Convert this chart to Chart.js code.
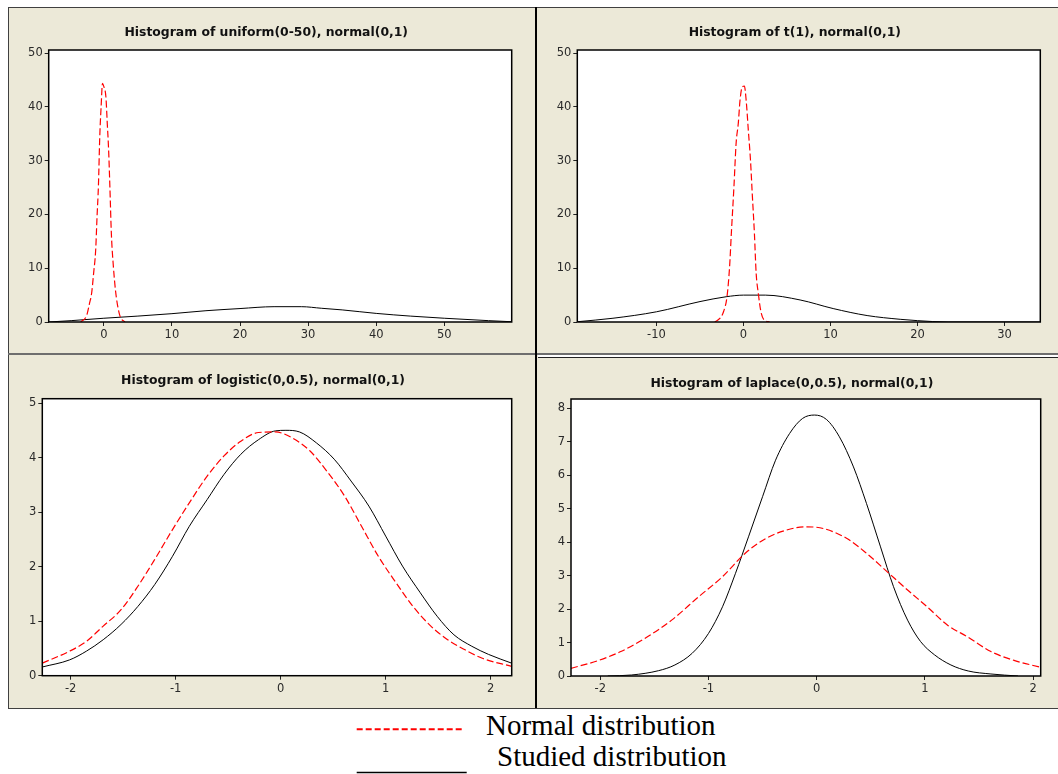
<!DOCTYPE html>
<html>
<head>
<meta charset="utf-8">
<title>Histograms of studied distributions vs normal(0,1)</title>
<script src="https://cdn.jsdelivr.net/npm/chart.js@4/dist/chart.umd.min.js"></script>
<style>
  body { margin: 0; background: #fff; width: 1058px; height: 774px; overflow: hidden; position: relative; }
  .abs { position: absolute; }
  #frame { left: 8px; top: 7px; width: 1060px; height: 700px; border: 1px solid #404040; background: #ece9d8; }
  canvas { position: absolute; }
  .key { font-family: "Liberation Serif", "Times New Roman", serif; font-size: 29px; line-height: 29px; color: #000; white-space: nowrap; }
</style>
</head>
<body>
<div id="frame" class="abs"></div>
<div class="abs" style="left:8px;top:353px;width:1060px;height:2px;background:#6e6e6e"></div>
<div class="abs" style="left:538px;top:355px;width:520px;height:2px;background:#fff"></div>
<div class="abs" style="left:538px;top:357px;width:520px;height:1px;background:#222"></div>
<div class="abs" style="left:535px;top:7px;width:2px;height:701px;background:#000"></div>

<canvas id="uniform"></canvas>
<canvas id="student"></canvas>
<canvas id="logistic"></canvas>
<canvas id="laplace"></canvas>

<svg class="abs" style="left:350px;top:715px" width="130" height="60">
  <line x1="6.7" y1="14.3" x2="111.7" y2="14.3" stroke="#ff0000" stroke-width="2" stroke-dasharray="6 3"/>
  <line x1="6.7" y1="57.5" x2="116.7" y2="57.5" stroke="#000" stroke-width="1.5"/>
</svg>
<div class="abs key" style="left:486px;top:711px">Normal distribution</div>
<div class="abs key" style="left:497px;top:742px">Studied distribution</div>

<script>
// uniform(0-50) against normal(0,1)
var uniNormX = [-3.4, -2.5, -2.1, -1.8, -1.5, -1.2, -1.0, -0.8, -0.6, -0.4, -0.2, 0.0, 0.3, 0.5, 0.7, 0.9, 1.1, 1.4, 1.7, 2.0, 2.4, 3.1];
var uniNormY = [0, 1.3, 3.5, 5.3, 9.1, 13.4, 19.6, 25.2, 34.5, 40.1, 44.4, 43.8, 41.9, 37.0, 32.0, 24.6, 16.5, 10.3, 6.0, 3.2, 1.0, 0];
var uniStudX = [-8.1, -4.8, 0, 5, 10, 15, 20, 25, 29, 32, 35, 40, 45, 50, 56.5, 59.9];
var uniStudY = [0, 0.25, 0.7, 1.1, 1.55, 2.1, 2.5, 2.85, 2.85, 2.55, 2.25, 1.6, 1.1, 0.7, 0.25, 0.05];
var uniXTicks = [0, 10, 20, 30, 40, 50];
var uniYTicks = [0, 10, 20, 30, 40, 50];

// t(1) against normal(0,1)
var tNormX = [-3.3, -2.7, -2.3, -1.9, -1.6, -1.4, -1.1, -0.85, -0.6, -0.4, -0.15, 0.1, 0.3, 0.55, 0.8, 1.0, 1.25, 1.45, 1.7, 2.0, 2.35, 3.0];
var tNormY = [0, 0.7, 1.9, 4.7, 10.3, 16.5, 25.2, 33.3, 37.0, 41.3, 43.7, 43.9, 41.3, 35.7, 30.1, 23.9, 16.5, 9.1, 5.3, 1.9, 0.4, 0];
var tStudX = [-19.1, -15, -10, -5, -2, 0, 2.5, 6.5, 10.3, 14.2, 18, 20, 23.5, 34.1];
var tStudY = [0.05, 0.7, 1.9, 3.8, 4.7, 5.0, 5.0, 4.1, 2.5, 1.2, 0.5, 0.25, 0, 0];
var tXTicks = [-10, 0, 10, 20, 30];
var tYTicks = [0, 10, 20, 30, 40, 50];

// logistic(0,0.5) against normal(0,1)
var logNormX = [-2.27, -2.01, -1.85, -1.69, -1.52, -1.36, -1.20, -1.03, -0.87, -0.70, -0.54, -0.38, -0.21, -0.05, 0.11, 0.28, 0.44, 0.61, 0.77, 0.93, 1.10, 1.26, 1.43, 1.59, 1.75, 1.92, 2.20];
var logNormY = [0.23, 0.45, 0.63, 0.91, 1.21, 1.64, 2.13, 2.68, 3.17, 3.66, 4.03, 4.30, 4.46, 4.47, 4.36, 4.12, 3.75, 3.29, 2.74, 2.19, 1.70, 1.27, 0.91, 0.66, 0.48, 0.32, 0.17];
var logStudX = [-2.27, -2.01, -1.85, -1.69, -1.52, -1.36, -1.20, -1.03, -0.87, -0.70, -0.54, -0.38, -0.21, -0.05, 0.05, 0.18, 0.34, 0.51, 0.67, 0.84, 1.0, 1.16, 1.33, 1.49, 1.65, 1.82, 1.98, 2.20];
var logStudY = [0.16, 0.29, 0.45, 0.66, 0.94, 1.27, 1.67, 2.19, 2.74, 3.23, 3.69, 4.06, 4.33, 4.49, 4.50, 4.47, 4.27, 3.97, 3.57, 3.11, 2.56, 2.01, 1.52, 1.09, 0.75, 0.54, 0.39, 0.23];
var logXTicks = [-2, -1, 0, 1, 2];
var logYTicks = [0, 1, 2, 3, 4, 5];

// laplace(0,0.5) against normal(0,1)
var lapNormX = [-2.27, -2.02, -1.81, -1.56, -1.34, -1.09, -0.87, -0.66, -0.47, -0.28, -0.10, 0.06, 0.28, 0.46, 0.65, 0.84, 1.02, 1.21, 1.40, 1.61, 1.83, 2.07];
var lapNormY = [0.23, 0.46, 0.73, 1.18, 1.67, 2.37, 2.97, 3.67, 4.11, 4.36, 4.46, 4.41, 4.11, 3.67, 3.12, 2.57, 2.07, 1.52, 1.16, 0.73, 0.46, 0.26];
var lapStudX = [-1.93, -1.71, -1.46, -1.31, -1.15, -1.0, -0.87, -0.75, -0.63, -0.50, -0.38, -0.25, -0.13, -0.02, 0.09, 0.21, 0.34, 0.46, 0.59, 0.71, 0.84, 0.96, 1.09, 1.24, 1.40, 1.61, 1.86];
var lapStudY = [0, 0.03, 0.16, 0.33, 0.68, 1.27, 2.07, 3.07, 4.16, 5.36, 6.45, 7.25, 7.70, 7.80, 7.67, 7.15, 6.25, 5.16, 3.86, 2.67, 1.67, 1.03, 0.63, 0.33, 0.15, 0.06, 0];
var lapXTicks = [-2, -1, 0, 1, 2];
var lapYTicks = [0, 1, 2, 3, 4, 5, 6, 7, 8];

Chart.defaults.font.family = "'DejaVu Sans', sans-serif";

var Y_AXIS_W = 28, X_AXIS_H = 24, TITLE_SIZE = 12.4, TITLE_H = TITLE_SIZE * 1.2;

function points(xs, ys) {
    return xs.map(function (x, i) { return { x: x, y: ys[i] }; });
}

// white plotting area with a black box around it
var plotFrame = {
    id: 'plotFrame',
    beforeDraw: function (chart) {
        var a = chart.chartArea, ctx = chart.ctx;
        ctx.save();
        ctx.fillStyle = '#fff';
        ctx.fillRect(a.left, a.top, a.right - a.left, a.bottom - a.top);
        ctx.restore();
    },
    afterDraw: function (chart) {
        var a = chart.chartArea, ctx = chart.ctx;
        ctx.save();
        ctx.strokeStyle = '#000';
        ctx.lineWidth = 1.5;
        ctx.strokeRect(a.left, a.top, a.right - a.left, a.bottom - a.top);
        ctx.restore();
    }
};

function axis(min, max, tickValues, isX) {
    return {
        type: 'linear',
        min: min,
        max: max,
        afterBuildTicks: function (s) { s.ticks = tickValues.map(function (v) { return { value: v }; }); },
        afterFit: function (s) { if (isX) s.height = X_AXIS_H; else s.width = Y_AXIS_W; },
        grid: { drawOnChartArea: false, drawTicks: true, tickLength: 4, color: '#222', lineWidth: 1 },
        border: { display: false },
        ticks: { color: '#2a2a2a', padding: 2, font: { size: 11.5 } }
    };
}

// box = canvas [left, top, width, height], plot = plotting area [left, top, right, bottom]
function drawPanel(p) {
    var canvas = document.getElementById(p.id);
    canvas.width = p.box[2];
    canvas.height = p.box[3];
    canvas.style.left = p.box[0] + 'px';
    canvas.style.top = p.box[1] + 'px';

    var pad = {
        left: p.plot[0] - p.box[0] - Y_AXIS_W,
        top: p.titleY - p.box[1] - TITLE_H / 2,
        right: p.box[0] + p.box[2] - p.plot[2],
        bottom: p.box[1] + p.box[3] - p.plot[3] - X_AXIS_H
    };

    return new Chart(canvas.getContext('2d'), {
        type: 'line',
        data: {
            datasets: [{
                label: 'Normal distribution',
                data: points(p.normX, p.normY),
                borderColor: '#ff0000',
                borderWidth: 1.2,
                borderDash: [7, 3],
                pointRadius: 0,
                cubicInterpolationMode: 'monotone',
                fill: false
            }, {
                label: 'Studied distribution',
                data: points(p.studX, p.studY),
                borderColor: '#000',
                borderWidth: 1,
                pointRadius: 0,
                cubicInterpolationMode: 'monotone',
                fill: false
            }]
        },
        options: {
            responsive: false,
            animation: false,
            devicePixelRatio: 1,
            layout: { padding: pad },
            plugins: {
                legend: { display: false },
                tooltip: { enabled: false },
                title: {
                    display: true,
                    text: p.title,
                    color: '#111',
                    font: { size: TITLE_SIZE, weight: 'bold', lineHeight: 1.2 },
                    padding: { top: 0, bottom: p.plot[1] - p.titleY - TITLE_H / 2 }
                }
            },
            scales: {
                x: axis(p.xMin, p.xMax, p.xTicks, true),
                y: axis(0, p.yMax, p.yTicks, false)
            }
        },
        plugins: [plotFrame]
    });
}

drawPanel({
    id: 'uniform', box: [9, 8, 526, 345], plot: [48.7, 50, 511.7, 322], titleY: 32.3,
    title: 'Histogram of uniform(0-50), normal(0,1)',
    xMin: -8.1, xMax: 59.9, yMax: 50.6, xTicks: uniXTicks, yTicks: uniYTicks,
    normX: uniNormX, normY: uniNormY, studX: uniStudX, studY: uniStudY
});

drawPanel({
    id: 'student', box: [538, 8, 520, 345], plot: [577.3, 50, 1040.3, 322], titleY: 32.3,
    title: 'Histogram of t(1), normal(0,1)',
    xMin: -19.1, xMax: 34.1, yMax: 50.6, xTicks: tXTicks, yTicks: tYTicks,
    normX: tNormX, normY: tNormY, studX: tStudX, studY: tStudY
});

drawPanel({
    id: 'logistic', box: [9, 356, 526, 351], plot: [42.3, 398.7, 511.7, 675.7], titleY: 380.8,
    title: 'Histogram of logistic(0,0.5), normal(0,1)',
    xMin: -2.27, xMax: 2.2, yMax: 5.08, xTicks: logXTicks, yTicks: logYTicks,
    normX: logNormX, normY: logNormY, studX: logStudX, studY: logStudY
});

drawPanel({
    id: 'laplace', box: [538, 358, 520, 349], plot: [571, 399, 1040.7, 676], titleY: 383.5,
    title: 'Histogram of laplace(0,0.5), normal(0,1)',
    xMin: -2.27, xMax: 2.07, yMax: 8.28, xTicks: lapXTicks, yTicks: lapYTicks,
    normX: lapNormX, normY: lapNormY, studX: lapStudX, studY: lapStudY
});
</script>
</body>
</html>
